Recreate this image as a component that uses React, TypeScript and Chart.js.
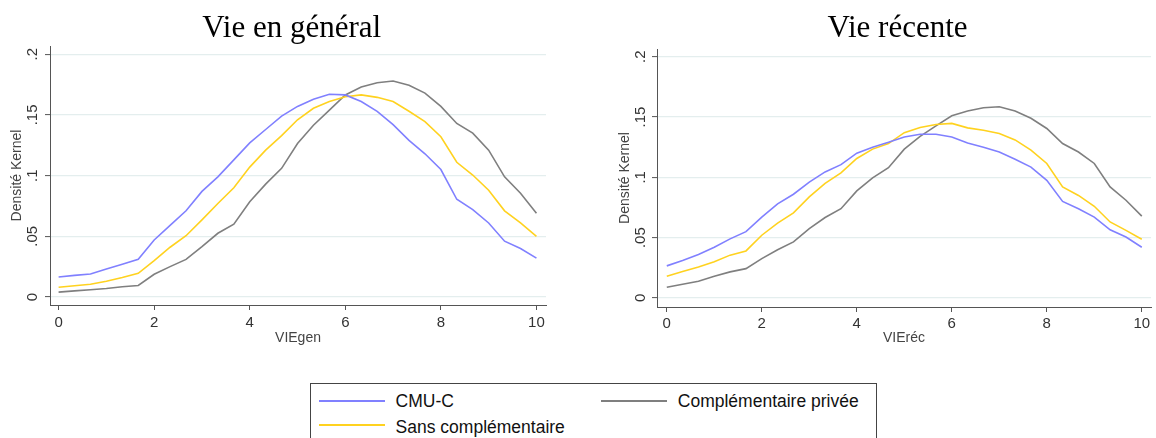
import React, { useEffect, useRef } from "react";
import { Chart, registerables } from "chart.js";

Chart.register(...registerables);

// ---------- data ----------
const xPoints = [
  0, 0.333, 0.667, 1, 1.333, 1.667, 2, 2.333, 2.667, 3, 3.333, 3.667, 4, 4.333, 4.667,
  5, 5.333, 5.667, 6, 6.333, 6.667, 7, 7.333, 7.667, 8, 8.333, 8.667, 9, 9.333, 9.667, 10,
];

// Vie en général
const genCMU = [
  0.0165, 0.0178, 0.019, 0.023, 0.027, 0.031, 0.047, 0.059, 0.071, 0.087, 0.099, 0.113, 0.127,
  0.138, 0.149, 0.157, 0.163, 0.167, 0.1665, 0.161, 0.153, 0.142, 0.129, 0.118, 0.105, 0.0805,
  0.072, 0.061, 0.046, 0.04, 0.032,
];
const genSans = [
  0.008, 0.0093, 0.0105, 0.013, 0.016, 0.0195, 0.03, 0.041, 0.0505, 0.0635, 0.077, 0.09, 0.107,
  0.121, 0.133, 0.146, 0.1555, 0.161, 0.165, 0.1665, 0.1645, 0.161, 0.153, 0.1445, 0.132, 0.111,
  0.1005, 0.088, 0.071, 0.061, 0.05,
];
const genPrivee = [
  0.004, 0.005, 0.006, 0.007, 0.0085, 0.0095, 0.0187, 0.025, 0.031, 0.0415, 0.0525, 0.06, 0.0785,
  0.093, 0.106, 0.1265, 0.1415, 0.154, 0.1665, 0.173, 0.1765, 0.178, 0.1745, 0.168, 0.157, 0.143,
  0.135, 0.121, 0.099, 0.0855, 0.069,
];

// Vie récente
const recCMU = [
  0.0266, 0.031, 0.036, 0.042, 0.049, 0.055, 0.067, 0.078, 0.086, 0.096, 0.1045, 0.1105, 0.12,
  0.125, 0.129, 0.1335, 0.1357, 0.1357, 0.1335, 0.1285, 0.125, 0.121, 0.115, 0.1085, 0.0975, 0.08,
  0.074, 0.067, 0.0565, 0.0505, 0.042,
];
const recSans = [
  0.018, 0.022, 0.0257, 0.03, 0.0355, 0.039, 0.052, 0.062, 0.0705, 0.0838, 0.095, 0.1037, 0.1156,
  0.1234, 0.128, 0.137, 0.1413, 0.1438, 0.1447, 0.141, 0.139, 0.1364, 0.131, 0.1225, 0.1115, 0.092,
  0.085, 0.076, 0.063, 0.056, 0.0487,
];
const recPrivee = [
  0.0089, 0.0113, 0.0138, 0.018, 0.0216, 0.0243, 0.0326, 0.04, 0.0465, 0.0575, 0.0667, 0.074,
  0.0888, 0.0996, 0.108, 0.1234, 0.134, 0.1427, 0.151, 0.155, 0.1577, 0.1585, 0.155, 0.149, 0.1405,
  0.128, 0.121, 0.1115, 0.092, 0.081, 0.0678,
];

const yTicks = [0, 0.05, 0.1, 0.15, 0.2];
const yTickLabels = ["0", ".05", ".1", ".15", ".2"];
const xTicks = [0, 2, 4, 6, 8, 10];
const seriesNames = ["CMU-C", "Sans complémentaire", "Complémentaire privée"];
const seriesColors = ["#8080ff", "#ffd21f", "#7f7f7f"];
const panelTitles = ["Vie en général", "Vie récente"];
const xTitles = ["VIEgen", "VIEréc"];
const yTitle = "Densité Kernel";

const SANS = "'Liberation Sans', Arial, sans-serif";
const SERIF = "'Liberation Serif', 'Times New Roman', serif";

type PanelProps = {
  left: number;
  width: number;
  series: number[][];
  xTitle: string;
  yWidth: number;
  xHeight: number;
  padTop: number;
  padRight: number;
  xMin: number;
  xMax: number;
  yMin: number;
  yMax: number;
  yLabelPad: number;
  xLabelPad: number;
  yTitlePad: number;
  xTitlePad: number;
};

function Panel(p: PanelProps) {
  const ref = useRef<HTMLCanvasElement | null>(null);
  useEffect(() => {
    if (!ref.current) return;
    const chart = new Chart(ref.current, {
      type: "line",
      data: {
        datasets: p.series.map((s, i) => ({
          label: seriesNames[i],
          data: xPoints.map((x, j) => ({ x, y: s[j] })),
          borderColor: seriesColors[i],
          backgroundColor: seriesColors[i],
          borderWidth: 1.6,
          pointRadius: 0,
          tension: 0,
          fill: false,
        })),
      },
      options: {
        responsive: false,
        animation: false,
        devicePixelRatio: 1,
        layout: { padding: { left: 0, top: p.padTop, right: p.padRight, bottom: 0 } },
        plugins: { legend: { display: false }, title: { display: false }, tooltip: { enabled: false } },
        scales: {
          x: {
            type: "linear",
            min: p.xMin,
            max: p.xMax,
            afterBuildTicks: (s: any) => {
              s.ticks = xTicks.map((v) => ({ value: v }));
            },
            afterFit: (s: any) => {
              s.height = p.xHeight;
            },
            ticks: {
              autoSkip: false,
              maxRotation: 0,
              minRotation: 0,
              padding: p.xLabelPad,
              color: "#333",
              font: { family: SANS, size: 15 },
              callback: (v: any) => String(v),
            },
            grid: {
              display: true,
              drawOnChartArea: false,
              drawTicks: true,
              tickLength: 5,
              tickColor: "#555",
              tickWidth: 1,
            },
            border: { display: true, color: "#555", width: 1 },
            title: {
              display: true,
              text: p.xTitle,
              color: "#444",
              font: { family: SANS, size: 14 },
              padding: { top: 0, bottom: p.xTitlePad },
            },
          },
          y: {
            type: "linear",
            min: p.yMin,
            max: p.yMax,
            afterBuildTicks: (s: any) => {
              s.ticks = yTicks.map((v) => ({ value: v }));
            },
            afterFit: (s: any) => {
              s.width = p.yWidth;
            },
            ticks: {
              autoSkip: false,
              minRotation: 90,
              maxRotation: 90,
              crossAlign: "center",
              padding: p.yLabelPad,
              color: "#333",
              font: { family: SANS, size: 15 },
              callback: (v: any) => {
                const i = yTicks.indexOf(v);
                return i >= 0 ? yTickLabels[i] : "";
              },
            },
            grid: {
              display: true,
              drawOnChartArea: true,
              drawTicks: true,
              tickLength: 5,
              color: "#e4eeee",
              lineWidth: 1.2,
              tickColor: "#555",
              tickWidth: 1,
            },
            border: { display: true, color: "#555", width: 1 },
            title: {
              display: true,
              text: yTitle,
              color: "#444",
              font: { family: SANS, size: 14 },
              padding: { top: p.yTitlePad, bottom: 0 },
            },
          },
        },
      } as any,
    });
    return () => chart.destroy();
  }, []);
  return (
    <canvas
      ref={ref}
      width={p.width}
      height={360}
      style={{ position: "absolute", left: p.left, top: 0, width: p.width, height: 360, display: "block" }}
    />
  );
}

export default function App() {
  const legendText = {
    position: "absolute" as const,
    fontFamily: SANS,
    fontSize: 17.5,
    lineHeight: "20px",
    color: "#111",
    whiteSpace: "nowrap" as const,
  };
  const legendLine = (left: number, top: number, color: string) => (
    <div style={{ position: "absolute", left, top, width: 66, height: 2, background: color }} />
  );
  return (
    <div
      style={{
        position: "absolute",
        left: 0,
        top: 0,
        width: 1156,
        height: 438,
        overflow: "hidden",
        background: "#fff",
      }}
    >
      <Panel
        left={0}
        width={600}
        series={[genCMU, genSans, genPrivee]}
        xTitle={xTitles[0]}
        yWidth={50}
        xHeight={55}
        padTop={46}
        padRight={54}
        xMin={-0.18}
        xMax={10.2}
        yMin={-0.0066}
        yMax={0.2068}
        yLabelPad={1.3}
        xLabelPad={4}
        yTitlePad={9}
        xTitlePad={13.6}
      />
      <Panel
        left={600}
        width={556}
        series={[recCMU, recSans, recPrivee]}
        xTitle={xTitles[1]}
        yWidth={57}
        xHeight={53}
        padTop={49}
        padRight={5}
        xMin={-0.206}
        xMax={10.194}
        yMin={-0.0075}
        yMax={0.2064}
        yLabelPad={0.3}
        xLabelPad={2.6}
        yTitlePad={17.2}
        xTitlePad={13.6}
      />
      <div
        style={{
          position: "absolute",
          left: 91.7,
          width: 400,
          top: 11.3,
          textAlign: "center",
          fontFamily: SERIF,
          fontSize: 31,
          lineHeight: "31px",
          color: "#000",
        }}
      >
        {panelTitles[0]}
      </div>
      <div
        style={{
          position: "absolute",
          left: 697.5,
          width: 400,
          top: 11.3,
          textAlign: "center",
          fontFamily: SERIF,
          fontSize: 31,
          lineHeight: "31px",
          color: "#000",
        }}
      >
        {panelTitles[1]}
      </div>
      <div
        style={{
          position: "absolute",
          left: 310,
          top: 383,
          width: 567,
          height: 80,
          border: "1px solid #444",
          boxSizing: "border-box",
        }}
      />
      {legendLine(318.5, 399.5, seriesColors[0])}
      <div style={{ ...legendText, left: 395.6, top: 391.4 }}>{seriesNames[0]}</div>
      {legendLine(600.7, 399.5, seriesColors[2])}
      <div style={{ ...legendText, left: 677.8, top: 391.4 }}>{seriesNames[2]}</div>
      {legendLine(318.5, 424, seriesColors[1])}
      <div style={{ ...legendText, left: 395.6, top: 416.5 }}>{seriesNames[1]}</div>
    </div>
  );
}
